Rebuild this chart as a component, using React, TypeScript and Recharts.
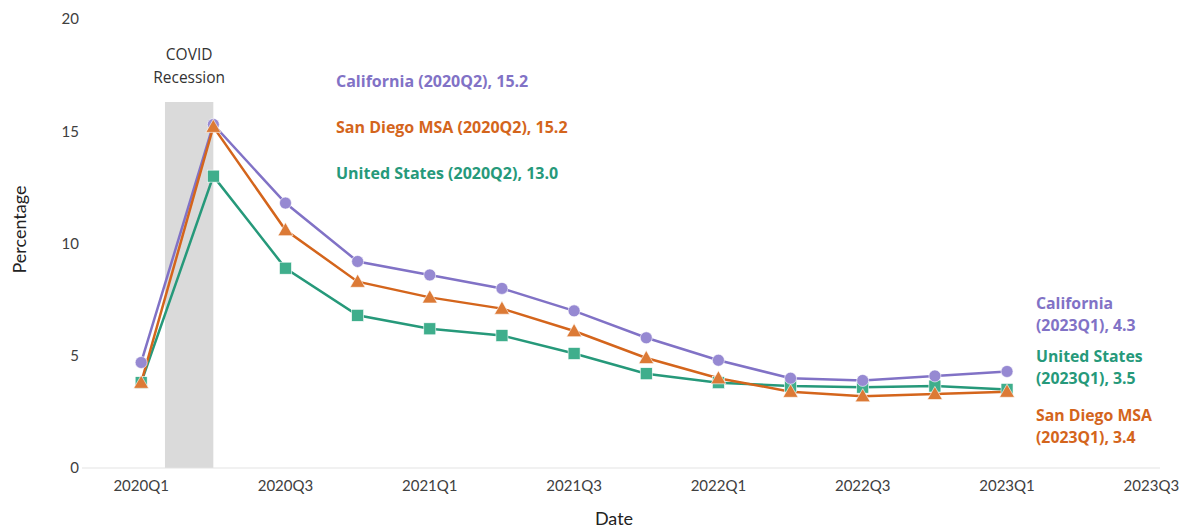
import React from "react";
import {
  LineChart,
  Line,
  XAxis,
  YAxis,
  ReferenceArea,
  Label,
} from "recharts";

// quarter index 0 = 2020Q1
const quarterIndex = [0, 1, 2, 3, 4, 5, 6, 7, 8, 9, 10, 11, 12];
const california = [4.7, 15.3, 11.8, 9.2, 8.6, 8.0, 7.0, 5.8, 4.8, 4.0, 3.9, 4.1, 4.3];
const sanDiego = [3.8, 15.2, 10.6, 8.3, 7.6, 7.1, 6.1, 4.9, 4.0, 3.4, 3.2, 3.3, 3.4];
const unitedStates = [3.8, 13.0, 8.9, 6.8, 6.2, 5.9, 5.1, 4.2, 3.8, 3.65, 3.6, 3.65, 3.5];

const xTicks = [0, 2, 4, 6, 8, 10, 12, 14];
const xTickLabels = ["2020Q1", "2020Q3", "2021Q1", "2021Q3", "2022Q1", "2022Q3", "2023Q1", "2023Q3"];
const yTicks = [0, 5, 10, 15, 20];

// recession band: mid Feb 2020 to 2020Q2
const recession = { x1: 0.33, x2: 1, top: 16.3 };

const CA_COLOR = "#8172c6";
const SD_COLOR = "#d4651c";
const US_COLOR = "#26997a";

const FONT = "Lato, 'Open Sans', sans-serif";
const NOTE_FONT = "'Open Sans', sans-serif";

const data = quarterIndex.map((q, i) => ({
  q,
  ca: california[i],
  sd: sanDiego[i],
  us: unitedStates[i],
}));

const peakNotes = [
  { text: "California (2020Q2), 15.2", color: CA_COLOR, top: 71 },
  { text: "San Diego MSA (2020Q2), 15.2", color: SD_COLOR, top: 117 },
  { text: "United States (2020Q2), 13.0", color: US_COLOR, top: 163 },
];

const endNotes = [
  { lines: ["California", "(2023Q1), 4.3"], color: CA_COLOR, top: 292 },
  { lines: ["United States", "(2023Q1), 3.5"], color: US_COLOR, top: 345 },
  { lines: ["San Diego MSA", "(2023Q1), 3.4"], color: SD_COLOR, top: 404 },
];

const CircleDot = (props: any) => {
  const { cx, cy } = props;
  if (cx == null || cy == null) return null;
  return <circle cx={cx} cy={cy} r={6} fill="#9689d2" stroke="#fff" strokeWidth={0.6} />;
};

const TriangleDot = (props: any) => {
  const { cx, cy } = props;
  if (cx == null || cy == null) return null;
  const s = 7.5;
  return (
    <polygon
      points={`${cx},${cy - s} ${cx - s},${cy + s * 0.75} ${cx + s},${cy + s * 0.75}`}
      fill="#dc7a36"
      stroke="#fff"
      strokeWidth={0.6}
    />
  );
};

const SquareDot = (props: any) => {
  const { cx, cy } = props;
  if (cx == null || cy == null) return null;
  return (
    <rect x={cx - 6} y={cy - 6} width={12} height={12} fill="#3fae8c" stroke="#fff" strokeWidth={0.6} />
  );
};

const RecessionLabel = (props: any) => {
  const { viewBox } = props;
  if (!viewBox) return null;
  const cx = viewBox.x + viewBox.width / 2;
  return (
    <text x={cx} textAnchor="middle" fontFamily={NOTE_FONT} fontSize={15.5} fill="#333">
      <tspan x={cx} y={viewBox.y - 42}>COVID</tspan>
      <tspan x={cx} y={viewBox.y - 19}>Recession</tspan>
    </text>
  );
};

const PercentLabel = (props: any) => {
  const { viewBox } = props;
  if (!viewBox) return null;
  const x = 26;
  const y = viewBox.y + viewBox.height / 2 - 14;
  return (
    <text
      x={x}
      y={y}
      transform={`rotate(-90 ${x} ${y})`}
      textAnchor="middle"
      fontFamily={FONT}
      fontSize={18}
      fill="#222"
    >
      Percentage
    </text>
  );
};

export default function App() {
  return (
    <div style={{ position: "fixed", left: 0, top: 0, width: 1185, height: 529, background: "#fff" }}>
      <LineChart
        width={1185}
        height={529}
        data={data}
        margin={{ top: 19, right: 25, bottom: 0, left: 0 }}
      >
        <XAxis
          dataKey="q"
          type="number"
          domain={[-0.82, 14.12]}
          ticks={xTicks}
          tickFormatter={(v) => xTickLabels[xTicks.indexOf(v)] ?? ""}
          stroke="#e3e3e3"
          tickLine={false}
          tickMargin={6}
          height={61}
          tick={{ fontSize: 15, fill: "#404040", fontFamily: FONT }}
          interval={0}
        >
          <Label
            value="Date"
            position="insideBottom"
            offset={4}
            dx={-7}
            style={{ fontSize: 18, fill: "#222", fontFamily: FONT }}
          />
        </XAxis>
        <YAxis
          type="number"
          domain={[0, 20]}
          ticks={yTicks}
          axisLine={false}
          tickLine={false}
          tickSize={3}
          tickMargin={0}
          width={82}
          tick={{ fontSize: 15, fill: "#404040", fontFamily: FONT }}
        >
          <Label content={<PercentLabel />} />
        </YAxis>
        <ReferenceArea
          x1={recession.x1}
          x2={recession.x2}
          y1={0}
          y2={recession.top}
          fill="#dadada"
          fillOpacity={1}
          stroke="none"
          label={<RecessionLabel />}
        />
        <Line
          dataKey="us"
          stroke={US_COLOR}
          strokeWidth={2.5}
          dot={<SquareDot />}
          activeDot={false}
          isAnimationActive={false}
        />
        <Line
          dataKey="ca"
          stroke={CA_COLOR}
          strokeWidth={2.5}
          dot={<CircleDot />}
          activeDot={false}
          isAnimationActive={false}
        />
        <Line
          dataKey="sd"
          stroke={SD_COLOR}
          strokeWidth={2.5}
          dot={<TriangleDot />}
          activeDot={false}
          isAnimationActive={false}
        />
      </LineChart>
      {peakNotes.map((n) => (
        <div
          key={n.text}
          style={{
            position: "absolute",
            left: 336,
            top: n.top,
            color: n.color,
            fontFamily: NOTE_FONT,
            fontWeight: 700,
            fontSize: 16,
            lineHeight: "20px",
            whiteSpace: "nowrap",
          }}
        >
          {n.text}
        </div>
      ))}
      {endNotes.map((n) => (
        <div
          key={n.lines[0]}
          style={{
            position: "absolute",
            left: 1036,
            top: n.top,
            color: n.color,
            fontFamily: NOTE_FONT,
            fontWeight: 700,
            fontSize: 15.8,
            lineHeight: "22px",
            whiteSpace: "nowrap",
          }}
        >
          {n.lines.map((l) => (
            <div key={l}>{l}</div>
          ))}
        </div>
      ))}
    </div>
  );
}
